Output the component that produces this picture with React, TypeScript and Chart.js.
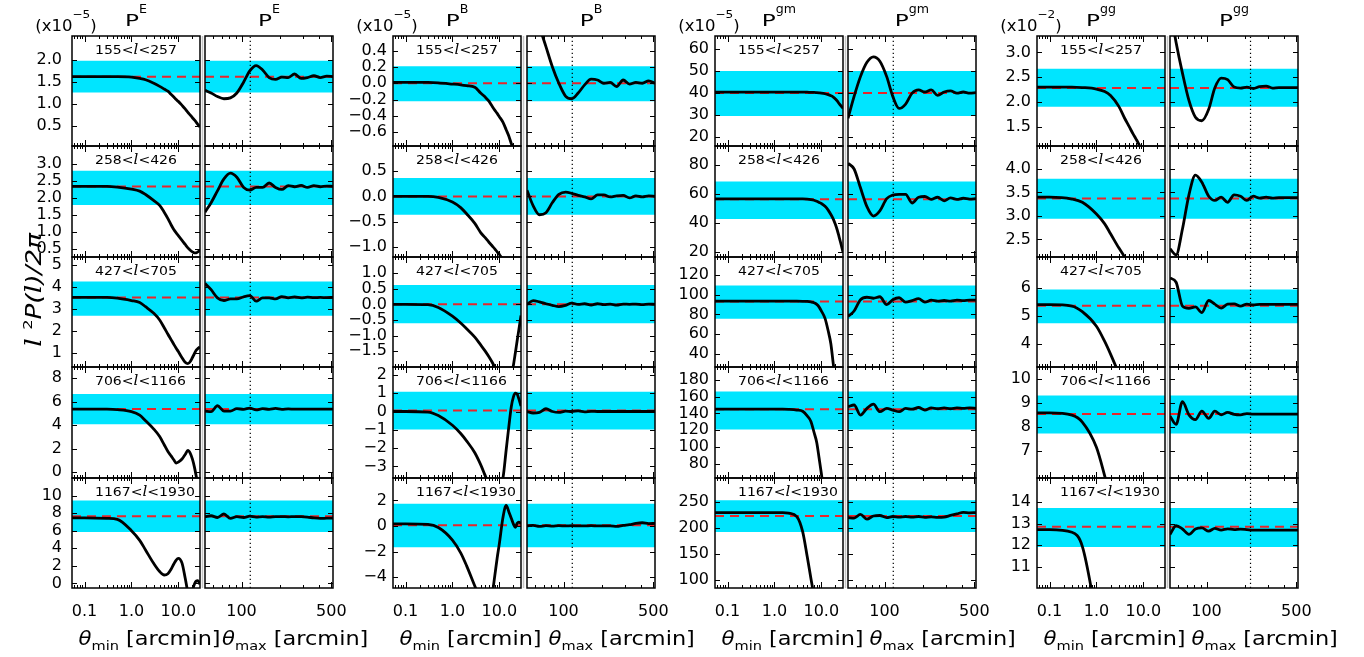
import React, { useEffect, useRef } from 'react';
import { Chart, registerables } from 'chart.js';

Chart.register(...registerables);

// ---------------- axes / shared data ----------------
const THETA_MIN_GRID = [0.054, 0.1, 0.3, 0.5, 1, 1.5, 2, 3, 4, 5, 6, 7, 8, 9, 10, 12, 14, 16, 18, 20, 22, 24, 26, 29];
const THETA_MAX_GRID = [52, 58, 65, 73, 82, 92, 104, 116, 130, 146, 164, 184, 206, 231, 259, 291, 326, 366, 410, 460, 515];
const THETA_MIN_RANGE = [0.054, 29];
const THETA_MAX_RANGE = [52, 515];
const THETA_MIN_TICKS = [0.1, 1, 10];
const THETA_MIN_LABELS = ['0.1', '1.0', '10.0'];
const THETA_MIN_MINOR = [0.06, 0.07, 0.08, 0.09, 0.2, 0.3, 0.4, 0.5, 0.6, 0.7, 0.8, 0.9, 2, 3, 4, 5, 6, 7, 8, 9, 20];
const THETA_MAX_TICKS = [100, 500];
const THETA_MAX_LABELS = ['100', '500'];
const THETA_MAX_MINOR = [60, 70, 80, 90, 200, 300, 400];
const ELL_LO = [155, 258, 427, 706, 1167];
const ELL_HI = [257, 426, 705, 1166, 1930];
const SPECTRA = ['E', 'B', 'gm', 'gg'];
const UNIT_EXP = ['\u22125', '\u22125', '\u22125', '\u22122'];
const THETA_MAX_CUT = [117, 117, 117, 220];

// ---------------- P^E ----------------
const E_Y_MIN = [0.05, 0.25, 0.37, -0.5, -0.53];
const E_Y_MAX = [2.54, 3.52, 5.35, 8.95, 12.0];
const E_Y_TICKS = [[0.5, 1, 1.5, 2], [0.5, 1, 1.5, 2, 2.5, 3], [1, 2, 3, 4, 5], [0, 2, 4, 6, 8], [0, 2, 4, 6, 8, 10]];
const E_Y_DEC = [1, 1, 0, 0, 0];
const E_FID = [1.62, 2.33, 3.52, 5.37, 7.65];
const E_BAND_LO = [1.26, 1.78, 2.69, 4.07, 5.85];
const E_BAND_HI = [1.98, 2.79, 4.24, 6.65, 9.43];
const E_THMIN = [
  [1.62, 1.62, 1.62, 1.62, 1.61, 1.58, 1.55, 1.47, 1.40, 1.34, 1.29, 1.22, 1.16, 1.10, 1.06, 0.97, 0.89, 0.81, 0.75, 0.69, 0.64, 0.59, 0.54, 0.48],
  [2.33, 2.33, 2.33, 2.31, 2.25, 2.19, 2.09, 1.91, 1.77, 1.57, 1.38, 1.20, 1.06, 0.96, 0.88, 0.74, 0.62, 0.52, 0.45, 0.40, 0.37, 0.37, 0.40, 0.45],
  [3.52, 3.52, 3.52, 3.49, 3.38, 3.29, 3.10, 2.80, 2.50, 2.15, 1.85, 1.61, 1.40, 1.22, 1.07, 0.79, 0.58, 0.52, 0.62, 0.80, 0.97, 1.13, 1.20, 1.28],
  [5.37, 5.37, 5.36, 5.32, 5.15, 4.85, 4.37, 3.66, 3.03, 2.33, 1.75, 1.38, 1.05, 0.77, 0.85, 1.12, 1.50, 1.85, 1.60, 1.10, 0.45, -0.30, -1.00, -2.00],
  [7.45, 7.45, 7.40, 7.28, 6.00, 4.90, 3.80, 2.25, 1.34, 0.95, 1.10, 1.60, 2.20, 2.65, 2.85, 2.30, 0.60, -1.00, -1.60, -0.80, -0.10, 0.25, 0.30, -0.10],
];
const E_THMAX = [
  [1.31, 1.25, 1.17, 1.12, 1.14, 1.25, 1.50, 1.75, 1.87, 1.77, 1.60, 1.56, 1.61, 1.60, 1.68, 1.58, 1.60, 1.64, 1.60, 1.63, 1.62],
  [1.57, 1.85, 2.20, 2.55, 2.72, 2.60, 2.30, 2.22, 2.30, 2.30, 2.43, 2.30, 2.24, 2.35, 2.32, 2.36, 2.30, 2.35, 2.32, 2.34, 2.33],
  [4.15, 3.87, 3.50, 3.38, 3.45, 3.45, 3.55, 3.60, 3.35, 3.50, 3.50, 3.45, 3.56, 3.50, 3.54, 3.50, 3.53, 3.51, 3.52, 3.51, 3.52],
  [5.20, 5.15, 5.65, 5.20, 5.20, 5.40, 5.35, 5.45, 5.30, 5.40, 5.35, 5.42, 5.35, 5.38, 5.36, 5.37, 5.37, 5.37, 5.37, 5.37, 5.37],
  [7.60, 7.70, 7.50, 7.90, 7.40, 7.60, 7.50, 7.65, 7.55, 7.60, 7.55, 7.60, 7.60, 7.58, 7.60, 7.60, 7.55, 7.45, 7.40, 7.42, 7.43],
];

// ---------------- P^B ----------------
const B_Y_MIN = [-0.77, -1.19, -2.01, -3.63, -4.85];
const B_Y_MAX = [0.58, 0.99, 1.52, 2.43, 3.75];
const B_Y_TICKS = [[-0.6, -0.4, -0.2, 0, 0.2, 0.4], [-1, -0.5, 0, 0.5], [-1.5, -1, -0.5, 0, 0.5, 1], [-3, -2, -1, 0, 1, 2], [-4, -2, 0, 2]];
const B_Y_DEC = [1, 1, 1, 0, 0];
const B_FID = [0.0, 0.0, 0.0, 0.05, 0.05];
const B_BAND_LO = [-0.22, -0.36, -0.61, -0.98, -1.66];
const B_BAND_HI = [0.21, 0.36, 0.62, 1.08, 1.73];
const B_THMIN = [
  [0.01, 0.01, 0.01, 0.005, -0.01, -0.02, -0.03, -0.05, -0.12, -0.17, -0.22, -0.28, -0.33, -0.37, -0.41, -0.48, -0.57, -0.65, -0.74, -0.82, -0.90, -0.97, -1.03, -1.12],
  [0.0, 0.0, 0.0, -0.02, -0.11, -0.22, -0.34, -0.53, -0.71, -0.81, -0.90, -0.97, -1.03, -1.09, -1.14, -1.24, -1.35, -1.45, -1.55, -1.65, -1.75, -1.85, -1.95, -2.05],
  [0.0, 0.0, -0.01, -0.10, -0.38, -0.60, -0.78, -1.05, -1.30, -1.50, -1.68, -1.85, -2.02, -2.20, -2.40, -2.80, -2.90, -2.70, -2.30, -1.95, -1.55, -1.17, -0.83, -0.36],
  [0.0, 0.0, -0.03, -0.22, -0.75, -1.20, -1.60, -2.25, -2.90, -3.50, -4.00, -4.30, -4.40, -4.30, -4.00, -3.60, -2.10, -0.80, 0.26, 0.80, 1.00, 0.95, 0.70, 0.30],
  [0.17, 0.17, 0.12, -0.12, -1.10, -2.10, -3.10, -4.70, -5.80, -6.40, -6.20, -5.40, -3.90, -2.50, -1.40, 0.70, 1.60, 1.10, 0.60, 0.15, -0.10, 0.20, 0.30, 0.20],
];
const B_THMAX = [
  [1.30, 1.00, 0.70, 0.45, 0.20, 0.00, -0.16, -0.19, -0.12, -0.02, 0.05, 0.04, 0.00, 0.01, -0.04, 0.04, -0.01, 0.01, 0.00, 0.03, 0.00],
  [0.12, -0.18, -0.36, -0.32, -0.12, 0.04, 0.085, 0.06, 0.02, -0.01, -0.05, 0.03, 0.03, -0.01, 0.01, 0.02, -0.03, 0.01, -0.01, 0.01, 0.00],
  [0.00, 0.12, 0.08, 0.02, -0.03, -0.07, -0.03, 0.04, 0.00, 0.02, -0.02, 0.02, -0.01, 0.01, -0.02, 0.01, 0.00, 0.01, -0.01, 0.01, 0.00],
  [0.00, -0.08, -0.05, 0.15, 0.00, -0.05, 0.02, 0.00, 0.03, -0.02, 0.01, 0.00, 0.00, 0.00, 0.00, 0.00, 0.00, 0.00, 0.00, 0.00, 0.00],
  [0.00, 0.05, -0.03, 0.02, -0.02, 0.02, 0.00, 0.03, 0.00, 0.00, 0.02, 0.00, 0.00, 0.00, -0.03, 0.05, 0.10, 0.20, 0.25, 0.18, 0.20],
];

// ---------------- P^gm ----------------
const GM_Y_MIN = [15.9, 16.2, 26.6, 62.8, 84.7];
const GM_Y_MAX = [66, 92.9, 138.4, 195.4, 296];
const GM_Y_TICKS = [[20, 30, 40, 50, 60], [20, 40, 60, 80], [40, 60, 80, 100, 120], [80, 100, 120, 140, 160, 180], [100, 150, 200, 250]];
const GM_Y_DEC = [0, 0, 0, 0, 0];
const GM_FID = [40.0, 56.1, 93.2, 144.8, 223.2];
const GM_BAND_LO = [29.6, 42.4, 75.7, 120.8, 192.5];
const GM_BAND_HI = [50.1, 68.3, 109.4, 166, 253.2];
const GM_THMIN = [
  [40.4, 40.4, 40.4, 40.4, 40.4, 40.4, 40.4, 40.4, 40.4, 40.4, 40.3, 40.3, 40.2, 40.1, 40.0, 39.7, 39.3, 38.8, 38.2, 37.3, 36.3, 35.2, 34.3, 33.0],
  [56.3, 56.3, 56.3, 56.3, 56.3, 56.3, 56.3, 56.3, 56.3, 56.2, 55.9, 55.4, 54.7, 53.9, 53.2, 51.2, 48.6, 45.6, 42.4, 38.6, 34.5, 30.0, 25.7, 19.5],
  [93.5, 93.5, 93.5, 93.5, 93.5, 93.5, 93.5, 93.5, 93.4, 93.2, 92.7, 91.9, 90.3, 87.5, 83.7, 76.0, 63.4, 50.0, 29.6, 13.0, -5, -20, -35, -55],
  [145, 145, 145, 145, 145, 145, 144.8, 144, 142.5, 137, 130.4, 117.2, 105, 86, 68.5, 35, 5, -25, -55, -85, -115, -145, -175, -205],
  [229.5, 229.5, 229.5, 229.5, 229.5, 229.5, 228.5, 222, 193, 145, 103, 68, 35, 5, -25, -80, -130, -180, -230, -280, -330, -380, -430, -480],
];
const GM_THMAX = [
  [28.5, 38.5, 47.5, 54.0, 56.5, 54.5, 47.5, 38.5, 33.0, 35.0, 40.0, 41.5, 40.5, 41.5, 39.0, 40.5, 41.0, 40.0, 40.5, 40.0, 40.2],
  [81, 77, 64, 51, 44.5, 48, 56.5, 59, 59.5, 59.5, 53.5, 57.5, 58, 56, 57.5, 55, 57, 56, 56.8, 56.2, 56.5],
  [78, 83.5, 95, 97.5, 96.5, 98, 90, 95, 97, 92.5, 94, 96, 92.5, 94.5, 93.5, 94.2, 93.5, 94.5, 94, 94.5, 94.5],
  [148, 150, 138, 146, 151, 142, 146, 144, 142, 146, 145, 147, 144, 146.5, 145.5, 146.5, 145.5, 146.5, 146, 146.5, 146],
  [220, 219, 226, 217, 223, 224, 220, 222, 221, 222, 221, 222, 220.5, 221.5, 220.5, 221, 224, 227, 230, 229, 229.5],
];

// ---------------- P^gg ----------------
const GG_Y_MIN = [1.11, 2.125, 3.18, 5.87, 10.02];
const GG_Y_MAX = [3.33, 4.49, 7.1, 10.49, 15.11];
const GG_Y_TICKS = [[1.5, 2, 2.5, 3], [2.5, 3, 3.5, 4], [4, 5, 6], [7, 8, 9, 10], [11, 12, 13, 14]];
const GG_Y_DEC = [1, 1, 0, 0, 0];
const GG_FID = [2.28, 3.37, 5.36, 8.53, 12.85];
const GG_BAND_LO = [1.90, 2.94, 4.74, 7.72, 11.92];
const GG_BAND_HI = [2.67, 3.79, 5.94, 9.30, 13.72];
const GG_THMIN = [
  [2.30, 2.30, 2.30, 2.29, 2.26, 2.21, 2.13, 1.91, 1.67, 1.50, 1.36, 1.25, 1.15, 1.05, 0.95, 0.80, 0.65, 0.50, 0.35, 0.20, 0.10, 0.00, -0.10, -0.20],
  [3.40, 3.40, 3.36, 3.29, 3.04, 2.83, 2.62, 2.32, 2.12, 1.93, 1.77, 1.62, 1.48, 1.35, 1.23, 1.00, 0.80, 0.60, 0.40, 0.20, 0.00, -0.20, -0.40, -0.60],
  [5.40, 5.40, 5.35, 5.15, 4.63, 4.09, 3.64, 2.95, 2.45, 2.05, 1.70, 1.40, 1.10, 0.80, 0.60, 0.20, -0.20, -0.60, -1.00, -1.40, -1.80, -2.20, -2.60, -3.00],
  [8.58, 8.58, 8.49, 8.20, 7.15, 5.96, 5.00, 3.50, 2.40, 1.50, 0.70, 0.00, -0.60, -1.20, -1.70, -2.60, -3.40, -4.10, -4.70, -5.20, -5.70, -6.10, -6.50, -7.00],
  [12.72, 12.72, 12.60, 11.95, 8.60, 6.00, 4.00, 1.50, -0.50, -2.00, -3.30, -4.40, -5.30, -6.10, -6.80, -8.00, -9.00, -9.80, -10.50, -11.10, -11.60, -12.10, -12.50, -13.00],
];
const GG_THMAX = [
  [3.90, 3.20, 2.58, 2.03, 1.69, 1.62, 1.85, 2.28, 2.48, 2.45, 2.30, 2.28, 2.30, 2.27, 2.31, 2.32, 2.28, 2.29, 2.29, 2.29, 2.29],
  [2.30, 2.17, 2.72, 3.45, 3.87, 3.72, 3.42, 3.33, 3.40, 3.29, 3.45, 3.42, 3.33, 3.42, 3.38, 3.40, 3.38, 3.39, 3.39, 3.39, 3.39],
  [6.35, 6.20, 5.35, 5.27, 5.32, 5.12, 5.55, 5.42, 5.28, 5.42, 5.43, 5.35, 5.42, 5.39, 5.41, 5.41, 5.41, 5.41, 5.41, 5.41, 5.41],
  [8.45, 8.10, 9.05, 8.50, 8.30, 8.65, 8.35, 8.65, 8.50, 8.60, 8.52, 8.50, 8.55, 8.53, 8.53, 8.53, 8.53, 8.53, 8.53, 8.53, 8.53],
  [12.50, 12.90, 12.75, 12.50, 12.75, 12.80, 12.65, 12.78, 12.70, 12.76, 12.72, 12.74, 12.72, 12.70, 12.70, 12.70, 12.70, 12.70, 12.70, 12.70, 12.70],
];

const GROUPS = [
  { yMin: E_Y_MIN, yMax: E_Y_MAX, yTicks: E_Y_TICKS, yDec: E_Y_DEC, fid: E_FID, lo: E_BAND_LO, hi: E_BAND_HI, thMin: E_THMIN, thMax: E_THMAX },
  { yMin: B_Y_MIN, yMax: B_Y_MAX, yTicks: B_Y_TICKS, yDec: B_Y_DEC, fid: B_FID, lo: B_BAND_LO, hi: B_BAND_HI, thMin: B_THMIN, thMax: B_THMAX },
  { yMin: GM_Y_MIN, yMax: GM_Y_MAX, yTicks: GM_Y_TICKS, yDec: GM_Y_DEC, fid: GM_FID, lo: GM_BAND_LO, hi: GM_BAND_HI, thMin: GM_THMIN, thMax: GM_THMAX },
  { yMin: GG_Y_MIN, yMax: GG_Y_MAX, yTicks: GG_Y_TICKS, yDec: GG_Y_DEC, fid: GG_FID, lo: GG_BAND_LO, hi: GG_BAND_HI, thMin: GG_THMIN, thMax: GG_THMAX },
];

// ---------------- layout / style ----------------
const GROUP_LEFT = [72, 393, 715, 1037];
const GROUP_RIGHT = [205, 527, 848, 1170];
const PANEL_W = 128;
const ROW_TOP = [36, 146, 257, 367, 478];
const ROW_BOTTOM = [146, 257, 367, 478, 588];
const PAD_L = 72;
const PAD_T = 36;
const PAD_R = 40;
const PAD_B = 70;
const FONT = '"DejaVu Sans", sans-serif';
const SERIF = '"DejaVu Serif", serif';
const CYAN = '#00e5ff';
const RED = '#e8262b';

type Part = { t: string; font: string; dy?: number; sx?: number };

function drawRich(ctx: CanvasRenderingContext2D, parts: Part[], x: number, y: number, align: 'left' | 'center' | 'right', sx = 1) {
  ctx.save();
  ctx.textBaseline = 'alphabetic';
  ctx.textAlign = 'left';
  ctx.fillStyle = '#000';
  const widths = parts.map((p) => {
    ctx.font = p.font;
    return ctx.measureText(p.t).width * (p.sx ?? sx);
  });
  const total = widths.reduce((s, w) => s + w, 0);
  let cx = align === 'center' ? x - total / 2 : align === 'right' ? x - total : x;
  parts.forEach((p, i) => {
    ctx.save();
    ctx.translate(cx, y + (p.dy ?? 0));
    ctx.scale(p.sx ?? sx, 1);
    ctx.font = p.font;
    ctx.fillText(p.t, 0, 0);
    ctx.restore();
    cx += widths[i];
  });
  ctx.restore();
}

function fmt(v: number, dec: number) {
  const s = v.toFixed(dec);
  return s.startsWith('-') ? '\u2212' + s.slice(1) : s;
}

function makeDecor(g: number, row: number, isMin: boolean, ox: number, oy: number) {
  return {
    id: 'decor',
    afterDraw(chart: any) {
      const ctx: CanvasRenderingContext2D = chart.ctx;
      const a = chart.chartArea;
      const xs = chart.scales.x;
      const ys = chart.scales.y;
      ctx.save();
      ctx.strokeStyle = '#000';
      ctx.lineWidth = 1;
      const seg = (x0: number, y0: number, x1: number, y1: number) => {
        ctx.beginPath();
        ctx.moveTo(x0, y0);
        ctx.lineTo(x1, y1);
        ctx.stroke();
      };
      const majors = isMin ? THETA_MIN_TICKS : THETA_MAX_TICKS;
      const minors = isMin ? THETA_MIN_MINOR : THETA_MAX_MINOR;
      majors.forEach((v) => {
        const p = Math.round(xs.getPixelForValue(v)) + 0.5;
        seg(p, a.bottom, p, a.bottom - 6);
        seg(p, a.top, p, a.top + 6);
      });
      minors.forEach((v) => {
        const p = Math.round(xs.getPixelForValue(v)) + 0.5;
        seg(p, a.bottom, p, a.bottom - 3);
        seg(p, a.top, p, a.top + 3);
      });
      GROUPS[g].yTicks[row].forEach((v: number) => {
        const p = Math.round(ys.getPixelForValue(v)) + 0.5;
        seg(a.left, p, a.left + 5, p);
        seg(a.right, p, a.right - 5, p);
      });
      ctx.lineWidth = 1.5;
      ctx.strokeRect(a.left, a.top, a.right - a.left, a.bottom - a.top);

      if (isMin) {
        ctx.strokeStyle = '#c4c4c4';
        ctx.lineWidth = 1.5;
        seg(a.right + 2.5, a.top, a.right + 2.5, a.bottom);
        const f = `13px ${FONT}`;
        drawRich(ctx, [
          { t: ELL_LO[row] + '<', font: f },
          { t: 'l', font: `italic 14px ${SERIF}` },
          { t: '<' + ELL_HI[row], font: f },
        ], a.left + 23, a.top + 18, 'left', 1.08);
      }
      if (row === 0) {
        drawRich(ctx, [
          { t: 'P', font: `16px ${FONT}`, sx: 1.45 },
          { t: SPECTRA[g], font: `12px ${FONT}`, dy: -13, sx: 1.05 },
        ], (a.left + a.right) / 2, 26 - oy, 'center');
        if (isMin) {
          drawRich(ctx, [
            { t: '(x10', font: `15px ${FONT}` },
            { t: UNIT_EXP[g], font: `11px ${FONT}`, dy: -13 },
            { t: ')', font: `15px ${FONT}` },
          ], a.left - 6, 30.5 - oy, 'center', 1.1);
        }
      }
      if (row === 4) {
        const startX = isMin ? a.left + 6.5 : a.left + (g === 0 ? 17 : 21.5);
        drawRich(ctx, [
          { t: '\u03b8', font: `italic 19px ${FONT}` },
          { t: isMin ? 'min' : 'max', font: `13px ${FONT}`, dy: 5 },
          { t: ' [arcmin]', font: `20px ${FONT}` },
        ], startX, 645 - oy, 'left', 1.12);
      }
      if (g === 0 && row === 2 && isMin) {
        ctx.save();
        ctx.translate(41 - ox, 290 - oy);
        ctx.rotate(-Math.PI / 2);
        drawRich(ctx, [
          { t: 'l', font: `italic 22px ${SERIF}` },
          { t: ' ', font: `21px ${FONT}` },
          { t: '2', font: `13px ${FONT}`, dy: -9 },
          { t: 'P(', font: `italic 21px ${FONT}` },
          { t: 'l', font: `italic 22px ${SERIF}` },
          { t: ')/2\u03c0', font: `italic 21px ${FONT}` },
        ], 0, 0, 'center', 1.25);
        ctx.restore();
      }
      ctx.restore();
    },
  };
}

function makeConfig(g: number, row: number, isMin: boolean, ox: number, oy: number) {
  const G = GROUPS[g];
  const grid = isMin ? THETA_MIN_GRID : THETA_MAX_GRID;
  const vals = (isMin ? G.thMin : G.thMax)[row];
  const [xmin, xmax] = isMin ? THETA_MIN_RANGE : THETA_MAX_RANGE;
  const ymin = G.yMin[row];
  const ymax = G.yMax[row];
  const yt = G.yTicks[row];
  const dec = G.yDec[row];
  const xt = isMin ? THETA_MIN_TICKS : THETA_MAX_TICKS;
  const xl = isMin ? THETA_MIN_LABELS : THETA_MAX_LABELS;

  const datasets: any[] = [
    {
      data: grid.map((x, i) => ({ x, y: vals[i] })),
      borderColor: '#000',
      borderWidth: 2.8,
      pointRadius: 0,
      cubicInterpolationMode: 'monotone',
      fill: false,
      clip: 0,
    },
  ];
  if (!isMin) {
    datasets.push({
      data: [{ x: THETA_MAX_CUT[g], y: ymin }, { x: THETA_MAX_CUT[g], y: ymax }],
      borderColor: '#000',
      borderWidth: 1.2,
      borderDash: [1.2, 2.8],
      pointRadius: 0,
      fill: false,
      clip: 0,
    });
  }
  datasets.push({
    data: [{ x: xmin, y: G.fid[row] }, { x: xmax, y: G.fid[row] }],
    borderColor: RED,
    borderWidth: 2,
    borderDash: [9, 6],
    pointRadius: 0,
    fill: false,
    clip: 0,
  });
  datasets.push({
    data: [{ x: xmin, y: G.hi[row] }, { x: xmax, y: G.hi[row] }],
    borderColor: 'rgba(0,0,0,0)',
    borderWidth: 0,
    backgroundColor: CYAN,
    fill: { value: G.lo[row] },
    pointRadius: 0,
    clip: 0,
  });

  return {
    type: 'line',
    data: { datasets },
    options: {
      animation: false,
      responsive: false,
      devicePixelRatio: 1,
      events: [],
      layout: { padding: { left: 0, top: PAD_T, right: PAD_R, bottom: 0 } },
      plugins: { legend: { display: false }, tooltip: { enabled: false } },
      scales: {
        x: {
          type: 'logarithmic',
          position: 'bottom',
          min: xmin,
          max: xmax,
          grid: { display: false, drawTicks: false },
          border: { display: false },
          ticks: {
            display: row === 4,
            autoSkip: false,
            maxRotation: 0,
            minRotation: 0,
            padding: 14,
            color: '#000',
            font: { family: FONT, size: 16 },
            callback: (_v: any, i: number) => xl[i],
          },
          afterBuildTicks: (s: any) => {
            s.ticks = xt.map((v) => ({ value: v }));
          },
          afterFit: (s: any) => {
            s.height = PAD_B;
          },
        },
        y: {
          type: 'linear',
          position: 'left',
          min: ymin,
          max: ymax,
          grid: { display: false, drawTicks: false },
          border: { display: false },
          ticks: {
            display: isMin,
            autoSkip: false,
            padding: g === 0 ? 10 : 6,
            color: '#000',
            font: { family: FONT, size: 16 },
            callback: (_v: any, i: number) => fmt(yt[i], dec),
          },
          afterBuildTicks: (s: any) => {
            s.ticks = yt.map((v: number) => ({ value: v }));
          },
          afterFit: (s: any) => {
            s.width = PAD_L;
          },
        },
      },
    },
    plugins: [makeDecor(g, row, isMin, ox, oy)],
  };
}

function Panel({ g, row, isMin }: { g: number; row: number; isMin: boolean }) {
  const ref = useRef<HTMLCanvasElement | null>(null);
  const L = isMin ? GROUP_LEFT[g] : GROUP_RIGHT[g];
  const T = ROW_TOP[row];
  const H = ROW_BOTTOM[row] - T;
  const cw = PAD_L + PANEL_W + PAD_R;
  const ch = PAD_T + H + PAD_B;
  const ox = L - PAD_L;
  const oy = T - PAD_T;
  useEffect(() => {
    if (!ref.current) return;
    const chart = new Chart(ref.current, makeConfig(g, row, isMin, ox, oy) as any);
    return () => chart.destroy();
  }, [g, row, isMin, ox, oy]);
  return (
    <canvas
      ref={ref}
      width={cw}
      height={ch}
      style={{ position: 'absolute', left: ox, top: oy, width: cw, height: ch }}
    />
  );
}

export default function App() {
  const panels: React.ReactNode[] = [];
  for (let g = 0; g < 4; g++) {
    for (let row = 0; row < 5; row++) {
      panels.push(<Panel key={`${g}-${row}-min`} g={g} row={row} isMin={true} />);
      panels.push(<Panel key={`${g}-${row}-max`} g={g} row={row} isMin={false} />);
    }
  }
  return (
    <div style={{ position: 'absolute', left: 0, top: 0, width: 1364, height: 657, background: '#fff', overflow: 'hidden' }}>
      {panels}
    </div>
  );
}
